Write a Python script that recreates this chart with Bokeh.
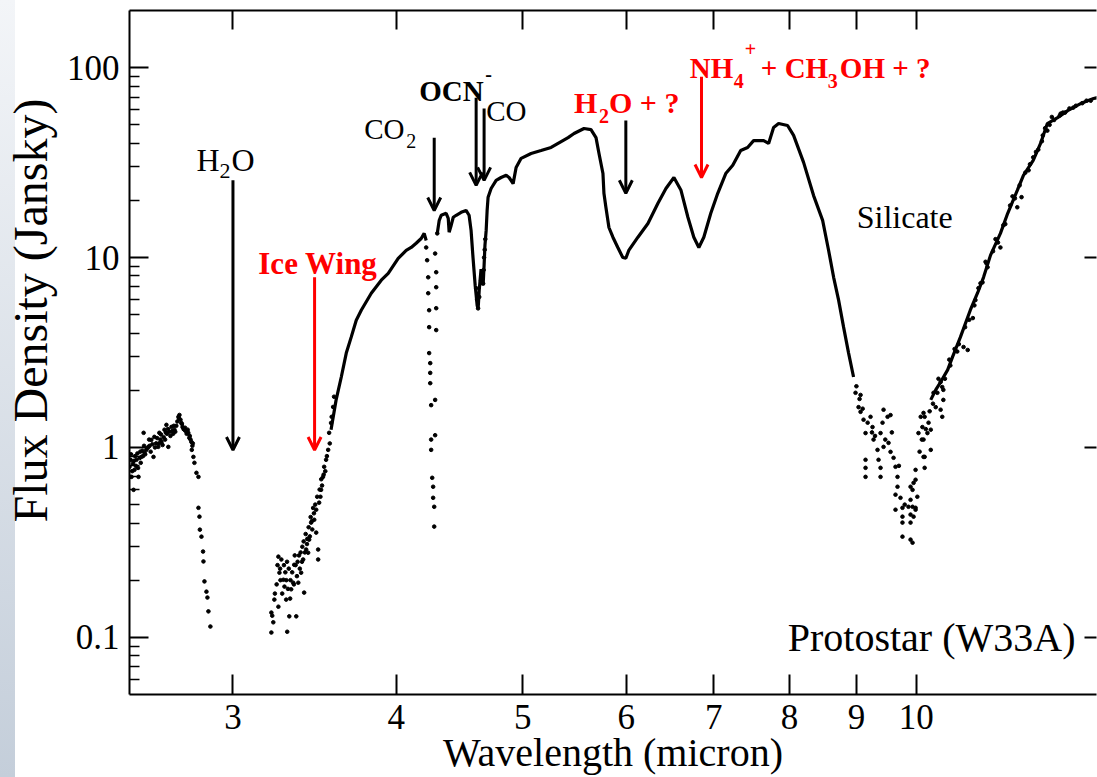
import math
from bokeh.plotting import figure
from bokeh.models import (Range1d, LogAxis, FixedTicker, NumeralTickFormatter,
                          Arrow, OpenHead, Label)
from bokeh.core.properties import value
from bokeh.embed import file_html
from bokeh.resources import INLINE

NAN = float("nan")

# ---------------- data ----------------
x_ticks = [3, 4, 5, 6, 7, 8, 9, 10]
y_ticks = [0.1, 1, 10, 100]
y_minor_ticks = [0.06, 0.07, 0.08, 0.09, 0.2, 0.3, 0.4, 0.5, 0.6, 0.7, 0.8, 0.9,
                 2, 3, 4, 5, 6, 7, 8, 9, 20, 30, 40, 50, 60, 70, 80, 90]

# noisy short-wavelength part (2.5-2.9 micron)
band1_wl = [2.500, 2.505, 2.509, 2.515, 2.518, 2.522, 2.525, 2.531, 2.540, 2.545,
            2.553, 2.557, 2.563, 2.567, 2.575, 2.585, 2.590, 2.598, 2.608, 2.612,
            2.620, 2.630, 2.635, 2.640, 2.645, 2.655, 2.659, 2.668, 2.670, 2.677,
            2.682, 2.692, 2.700, 2.706, 2.715, 2.725, 2.730, 2.735, 2.739, 2.745,
            2.754, 2.760, 2.773, 2.778, 2.780, 2.788, 2.790, 2.795, 2.798, 2.803,
            2.813, 2.823, 2.823, 2.828, 2.830, 2.838, 2.846, 2.848, 2.853, 2.863,
            2.868, 2.873, 2.883]
band1_flux = [0.791, 0.86, 0.700, 0.82, 0.598, 0.762, 0.90, 0.861, 0.700, 0.88,
              0.892, 0.96, 1.194, 0.937, 0.97, 1.007, 1.02, 1.096, 0.892, 1.137,
              1.05, 1.007, 1.194, 1.10, 1.069, 1.13, 1.24, 1.315, 1.18, 1.007,
              1.208, 1.283, 1.18, 1.24, 1.30, 1.449, 1.483, 1.40, 1.346, 1.28,
              1.24, 1.22, 1.194, 1.123, 1.15, 1.069, 0.971, 1.05, 0.892, 0.830,
              0.735, 0.700, 0.481, 0.432, 0.369, 0.339, 0.283, 0.251, 0.197, 0.174,
              0.162, 0.137, 0.114]
band1b_wl = [2.502, 2.507, 2.512, 2.520, 2.528, 2.535, 2.538, 2.548, 2.550, 2.560,
             2.565, 2.570, 2.580, 2.588, 2.595, 2.603, 2.615, 2.625, 2.633, 2.643,
             2.650, 2.662, 2.665, 2.675, 2.687, 2.695, 2.703, 2.710, 2.720, 2.728,
             2.742, 2.750, 2.757, 2.765, 2.770, 2.784, 2.793]
band1b_flux = [0.70, 0.92, 0.75, 0.85, 0.80, 0.93, 0.78, 0.95, 0.83, 0.90,
               1.02, 0.92, 0.99, 1.10, 0.95, 1.04, 1.00, 1.12, 1.05, 1.17,
               1.03, 1.10, 1.20, 1.25, 1.15, 1.22, 1.30, 1.21, 1.37, 1.42,
               1.33, 1.25, 1.27, 1.18, 1.24, 1.10, 1.02]

# noisy ice-wing part (3.2-3.6 micron)
band2_wl = [3.210, 3.210, 3.221, 3.227, 3.250, 3.250, 3.256, 3.260, 3.267, 3.279,
            3.285, 3.290, 3.295, 3.300, 3.301, 3.313, 3.320, 3.324, 3.336, 3.342,
            3.350, 3.354, 3.366, 3.370, 3.383, 3.390, 3.395, 3.401, 3.413, 3.420,
            3.425, 3.431, 3.443, 3.450, 3.460, 3.462, 3.474, 3.474, 3.486, 3.486,
            3.492, 3.500, 3.504, 3.510, 3.516, 3.523, 3.530, 3.535, 3.548, 3.554,
            3.566, 3.579, 3.585]
band2_flux = [0.135, 0.106, 0.120, 0.158, 0.266, 0.145, 0.219, 0.23, 0.257, 0.201,
              0.185, 0.22, 0.158, 0.25, 0.107, 0.129, 0.20, 0.179, 0.194, 0.241,
              0.24, 0.129, 0.194, 0.27, 0.219, 0.30, 0.257, 0.172, 0.290, 0.33,
              0.279, 0.327, 0.402, 0.37, 0.45, 0.416, 0.356, 0.470, 0.257, 0.290,
              0.512, 0.55, 0.598, 0.63, 0.700, 0.791, 0.75, 0.861, 0.971, 1.194,
              1.346, 1.634, 1.85]
band2b_wl = [3.215, 3.230, 3.240, 3.245, 3.262, 3.272, 3.282, 3.296, 3.305, 3.310,
             3.318, 3.330, 3.340, 3.345, 3.358, 3.362, 3.375, 3.380, 3.388, 3.398,
             3.405, 3.410, 3.418, 3.428, 3.435, 3.440, 3.448, 3.455, 3.468, 3.480,
             3.495, 3.505, 3.520, 3.540, 3.558, 3.570]
band2b_flux = [0.13, 0.17, 0.19, 0.24, 0.20, 0.17, 0.24, 0.20, 0.18, 0.23,
               0.16, 0.22, 0.19, 0.27, 0.21, 0.25, 0.23, 0.28, 0.25, 0.32,
               0.28, 0.35, 0.31, 0.38, 0.34, 0.43, 0.41, 0.48, 0.50, 0.55,
               0.60, 0.68, 0.72, 0.90, 1.05, 1.45]

# CO2 / OCN / CO trough points
trough_wl = [4.217, 4.224, 4.232, 4.232, 4.239, 4.239, 4.239, 4.247, 4.247, 4.247,
             4.254, 4.284, 4.254, 4.284, 4.254, 4.262, 4.269, 4.269, 4.277, 4.277,
             4.292, 4.292, 4.292, 4.292, 4.284, 4.300, 4.605, 4.613, 4.621, 4.630,
             4.645, 4.655, 4.662, 4.666, 4.670, 4.675, 4.680]
trough_flux = [11.3, 9.68, 7.87, 6.49, 5.28, 4.30, 3.14, 2.78, 2.47, 2.18,
               1.67, 1.78, 1.10, 1.16, 0.971, 0.692, 0.621, 0.543, 0.487, 0.383,
               4.15, 5.41, 6.98, 8.37, 10.5, 13.4, 6.9, 6.0, 5.4, 6.2,
               7.6, 8.0, 7.3, 8.6, 10.0, 11.0, 12.5]

# silicate trough and noisy long-wavelength rise
sil_wl = [8.986, 9.034, 9.066, 9.066, 9.114, 9.146, 9.227, 9.259, 9.276, 9.391,
          9.441, 9.508, 9.558, 9.424, 9.441, 9.341, 9.358, 9.146, 9.146, 9.146,
          9.391, 9.391, 9.524, 9.558, 9.609, 9.642, 9.676, 9.676, 9.642, 9.727,
          9.642, 9.761, 9.761, 9.761, 9.901, 9.936, 9.865, 9.901, 9.954, 9.989,
          9.761, 9.901, 9.936, 9.901, 9.936, 9.989, 9.989, 10.04, 10.11, 10.13,
          10.22, 10.20, 10.15, 10.15, 10.26, 10.08, 10.35, 10.38, 10.47, 10.49,
          10.47, 10.44, 9.00, 9.05, 9.10, 9.18, 9.25, 9.30, 9.47, 9.58,
          9.70, 9.80, 10.02, 10.06, 10.10, 10.17, 10.24, 10.30]
sil_flux = [1.94, 1.63, 1.89, 1.54, 1.40, 1.19, 1.45, 1.28, 1.10, 1.19,
            1.58, 1.45, 1.48, 1.35, 1.007, 0.971, 0.861, 0.861, 0.781, 0.700,
            0.781, 0.700, 1.057, 0.948, 0.882, 0.791, 0.700, 0.621, 0.564, 0.543,
            0.470, 0.481, 0.432, 0.402, 0.443, 0.487, 0.487, 0.402, 0.432, 0.481,
            0.339, 0.327, 0.315, 0.621, 0.598, 0.676, 0.762, 1.19, 1.28, 1.52,
            1.35, 1.19, 0.892, 0.781, 0.971, 1.45, 1.63, 1.94, 2.08, 1.78,
            1.45, 2.21, 2.10, 1.80, 1.60, 1.35, 1.20, 1.15, 1.10, 1.20,
            0.80, 0.50, 0.55, 0.95, 1.10, 1.25, 1.55, 1.70]

rise_wl = [10.15, 10.26, 10.13, 10.13, 9.954, 9.901, 9.989, 10.44, 10.31, 10.49,
           10.87, 10.95, 11.10, 11.20, 11.34, 11.60, 11.95, 12.04, 12.19, 12.29,
           12.60, 12.90, 13.19, 10.60, 10.75, 11.05, 11.30, 11.50, 11.70, 11.85,
           12.40, 12.50, 12.70, 13.00, 13.50]
rise_flux = [1.45, 1.24, 1.10, 0.892, 0.651, 0.530, 0.470, 1.58, 1.94, 2.01,
             3.38, 3.26, 5.97, 7.32, 8.89, 11.3, 18.4, 20.8, 28.8, 33.7,
             46.6, 57.3, 61.6, 2.9, 3.2, 4.8, 9.5, 12.5, 15.0, 21.0,
             37.0, 44.0, 55.0, 58.0, 67.0]
rise_b_wl = [10.40, 10.52, 10.62, 10.70, 10.78, 10.90, 10.98, 11.08, 11.16, 11.24,
             11.32, 11.45, 11.55, 11.66, 11.80, 11.90, 12.00, 12.12, 12.22, 12.35,
             12.48, 12.55, 12.65, 12.75, 12.88, 12.95, 13.10, 13.25, 13.40, 13.60]
rise_b_flux = [2.3, 2.3, 2.7, 3.3, 3.5, 4.3, 4.7, 5.6, 6.9, 7.4,
               9.3, 10.8, 12.0, 14.8, 18.8, 20.5, 24.0, 28.0, 31.0, 36.0,
               41.0, 48.0, 50.0, 53.0, 56.0, 58.0, 61.0, 63.0, 65.0, 67.0]

# smooth (dense) parts of the spectrum, NaN separates pieces
cont_wl = [3.566, 3.598, 3.631, 3.663, 3.695, 3.728, 3.761, 3.828, 3.896, 3.944,
           4.014, 4.071, 4.107, 4.143, 4.180, 4.202, 4.217, NAN,
           4.300, 4.315, 4.330, 4.368, 4.384, 4.391, 4.407, 4.423, 4.446, 4.485,
           4.524, 4.548, 4.564, 4.580, 4.597, 4.605, 4.613, 4.621, 4.630, 4.645,
           4.662, 4.670, 4.677, 4.687, 4.695, 4.703, 4.728, 4.770, 4.812, 4.855,
           4.880, 4.915, 4.941, 4.985, 5.073, 5.163, 5.255, 5.349, 5.415, 5.472,
           5.569, 5.638, 5.688, 5.718, 5.758, 5.768, 5.788, 5.819, 5.860, 5.911,
           5.963, 5.995, 6.026, 6.124, 6.233, 6.344, 6.434, 6.525, 6.607, 6.688,
           6.758, 6.818, 6.878, 6.963, 7.049, 7.149, 7.238, 7.340, 7.430, 7.509,
           7.643, 7.710, 7.778, 7.847, 7.972, 8.057, 8.200, 8.346, 8.480, 8.570,
           8.646, 8.722, 8.799, 8.877, 8.955, NAN,
           10.26, 10.35, 10.44, 10.57, 10.66, 10.81, 11.00, 11.14, 11.26, 11.40,
           11.60, 11.75, 11.95, 12.08, 12.29, 12.45, 12.60, 12.83, 13.06, 13.36,
           13.67, 13.76]
cont_flux = [1.24, 1.78, 2.35, 3.14, 3.81, 4.68, 5.28, 6.49, 7.60, 8.26,
             9.90, 10.9, 11.3, 11.9, 12.6, 13.4, 12.3, NAN,
             13.4, 15.7, 16.7, 17.1, 16.1, 13.6, 14.8, 16.3, 16.7, 17.3,
             17.7, 16.7, 13.9, 9.92, 7.15, 6.34, 5.61, 5.36, 6.73, 8.70,
             7.15, 9.11, 11.6, 13.9, 17.7, 20.8, 23.1, 25.5, 26.4, 27.1,
             26.4, 24.5, 29.8, 33.3, 35.3, 36.6, 38.0, 40.8, 42.8, 45.0,
             47.8, 47.2, 42.8, 35.3, 27.7, 21.8, 18.4, 14.4, 12.8, 11.3,
             10.0, 9.92, 10.9, 12.8, 15.1, 19.3, 23.1, 26.4, 22.6, 16.3,
             12.8, 11.3, 12.8, 17.1, 21.8, 27.7, 30.6, 36.6, 38.0, 41.3,
             41.3, 39.9, 48.4, 50.8, 49.6, 44.0, 31.7, 21.2, 15.7, 10.9,
             7.87, 5.97, 4.30, 3.14, 2.35, NAN,
             1.78, 2.01, 2.21, 2.56, 2.99, 3.81, 5.28, 6.49, 7.87, 10.3,
             13.4, 17.1, 22.6, 27.1, 32.5, 39.9, 50.8, 54.6, 59.4, 64.7,
             68.8, 69.5]

# arrows: wavelength, top flux, tip flux
arrow_wl = [3.0, 3.464, 4.277, 4.605, 4.67, 5.995, 6.85]
arrow_top = [25.5, 7.87, 42.8, 69.5, 60.9, 52.7, 89.7]
arrow_tip = [0.97, 0.97, 17.7, 24.0, 25.5, 21.8, 26.4]
arrow_red = [False, True, False, False, False, False, True]

# ---------------- figure ----------------
SERIF = "Liberation Serif"
RED = "#ff0000"

p = figure(width=1097, height=777, x_axis_type="log", y_axis_type="log",
           x_range=Range1d(2.5, 13.74), y_range=Range1d(0.05, 200),
           output_backend="svg", toolbar_location=None,
           min_border_left=128, min_border_right=1, min_border_top=10,
           min_border_bottom=82)
p.xgrid.visible = False
p.ygrid.visible = False
p.outline_line_color = None
p.background_fill_color = "white"
p.border_fill_color = None
p.styles = {"background": "linear-gradient(to bottom, #f3f5f8, #c4ceda) left top / 15px 100% no-repeat, #ffffff"}

def style_axis(ax, tick_in, minor_in=0, labels=True):
    ax.axis_line_width = 2
    ax.axis_line_color = "black"
    ax.major_tick_in = tick_in
    ax.major_tick_out = 0
    ax.major_tick_line_width = 2
    ax.minor_tick_in = minor_in
    ax.minor_tick_out = 0
    ax.minor_tick_line_width = 1.5
    ax.major_label_text_font = SERIF
    ax.axis_label_text_font = SERIF
    ax.axis_label_text_font_style = "normal"
    ax.axis_label_text_color = "black"
    if labels:
        ax.major_label_text_color = "black"
        ax.major_label_text_font_size = "35px"
    else:
        ax.major_label_text_font_size = "1px"
        ax.major_label_text_alpha = 0.0

xa = p.xaxis[0]
xa.ticker = FixedTicker(ticks=x_ticks, minor_ticks=[])
xa.formatter = NumeralTickFormatter(format="0.[0]")
style_axis(xa, 20)
xa.major_label_standoff = 10
xa.axis_label = "Wavelength (micron)"
xa.axis_label_text_font_size = "40px"
xa.axis_label_standoff = -2

ya = p.yaxis[0]
ya.ticker = FixedTicker(ticks=y_ticks, minor_ticks=y_minor_ticks)
ya.formatter = NumeralTickFormatter(format="0.[0]")
style_axis(ya, 19, 10)
ya.major_label_standoff = 10
ya.axis_label = "\u00a0" * 7 + "Flux Density (Jansky)"
ya.axis_label_text_font_size = "48px"
ya.axis_label_standoff = 7

top = LogAxis(ticker=FixedTicker(ticks=x_ticks, minor_ticks=[]))
style_axis(top, 19, labels=False)
top.major_label_standoff = 0
p.add_layout(top, "above")

right = LogAxis(ticker=FixedTicker(ticks=y_ticks, minor_ticks=[]))
style_axis(right, 12, labels=False)
right.axis_line_color = None
right.major_label_standoff = 0
p.add_layout(right, "right")

# spectrum
p.line(cont_wl, cont_flux, line_color="black", line_width=3.2)
for wl, fl in [(band1_wl, band1_flux), (band1b_wl, band1b_flux),
               (band2_wl, band2_flux), (band2b_wl, band2b_flux),
               (trough_wl, trough_flux), (sil_wl, sil_flux),
               (rise_wl, rise_flux), (rise_b_wl, rise_b_flux)]:
    p.scatter(wl, fl, size=3.6, color="black")

# arrows
for wl, top_f, tip_f, red in zip(arrow_wl, arrow_top, arrow_tip, arrow_red):
    c = RED if red else "black"
    p.add_layout(Arrow(x_start=wl, y_start=top_f, x_end=wl, y_end=tip_f,
                       line_color=c, line_width=3,
                       end=OpenHead(size=13, line_width=3, line_color=c)))

# rich labels (pieces with pixel offsets for sub/superscripts)
rich_labels = [
    (2.813, 32.5, "black", "normal", [("H", 0, 0, 32), ("2", 23, 11, 22), ("O", 35, 0, 32)]),
    (3.781, 47.8, "black", "normal", [("CO", 0, 0, 29), ("2", 42, 12, 20)]),
    (4.165, 75.7, "black", "bold", [("OCN", 0, 0, 29), ("-", 66, -17, 20)]),
    (4.687, 59.4, "black", "normal", [("CO", 0, 0, 29)]),
    (5.472, 65.5, RED, "bold", [("H", 0, 0, 30), ("2", 25, 13, 20), ("O + ?", 35, 0, 30)]),
    (6.711, 100.0, RED, "bold", [("NH", 0, 0, 29), ("4", 44, 13, 20), ("+", 55, -19, 20),
                                  ("+ CH", 71, 0, 29), ("3", 138, 13, 20), ("OH + ?", 150, 0, 29)]),
    (3.137, 9.33, RED, "bold", [("Ice Wing", 0, 0, 31)]),
    (9.005, 16.3, "black", "normal", [("Silicate", 0, 0, 32)]),
]
for lx, ly, col, sty, pieces in rich_labels:
    for txt, dx, dy, size in pieces:
        p.text(x=[lx], y=[ly], text=[txt], x_offset=dx, y_offset=dy,
               text_font=value(SERIF), text_font_size=f"{size}px",
               text_font_style=value(sty), text_color=col,
               text_align="left", text_baseline="alphabetic")

p.add_layout(Label(x=13.24, y=0.1, text="Protostar (W33A)", text_font=SERIF,
                   text_font_size="40px", text_color="black",
                   text_align="right", text_baseline="middle"))

open("out.html", "w").write(file_html(p, INLINE))
